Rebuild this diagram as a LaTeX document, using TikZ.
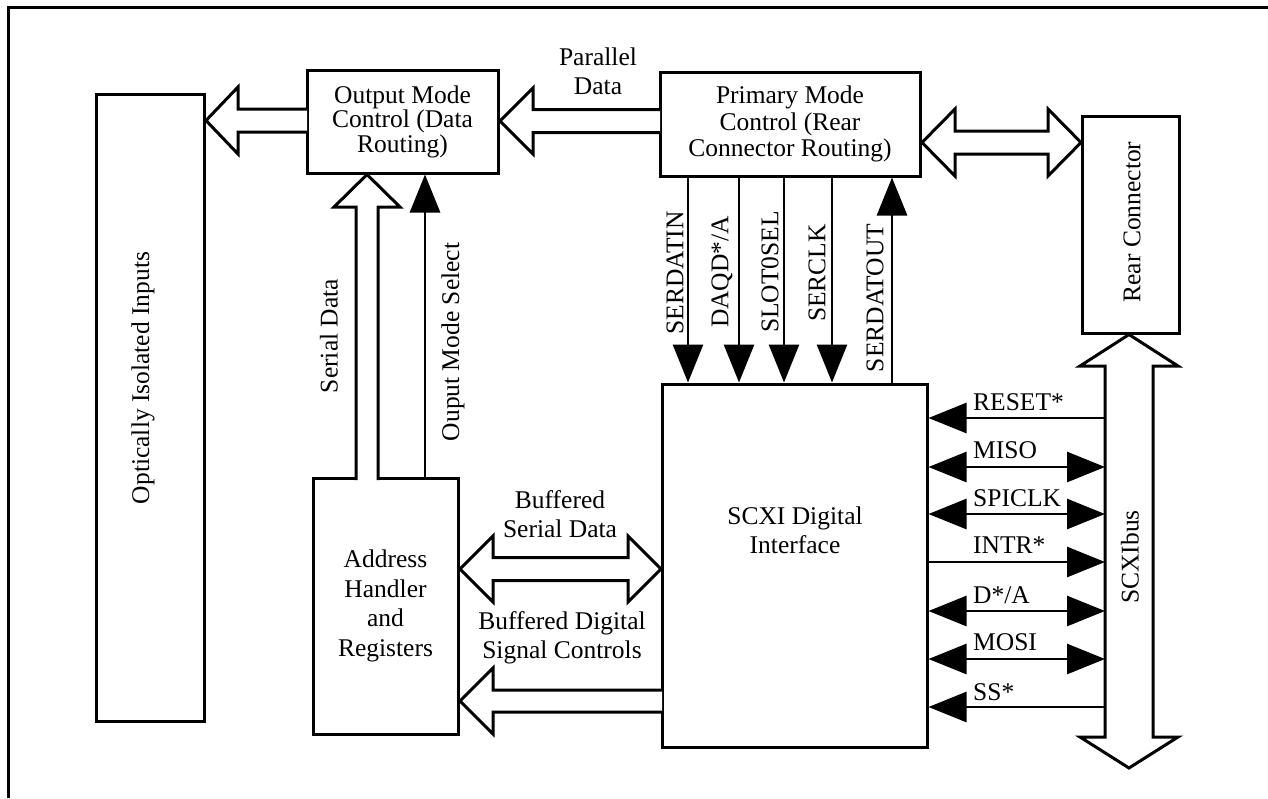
\documentclass[tikz,border=0pt]{standalone}
\usepackage{fontspec}
\setmainfont{Liberation Serif}
\usetikzlibrary{arrows.meta}
\begin{document}
\begin{tikzpicture}[x=1pt,y=-1pt,
  box/.style={draw,line width=3pt,inner sep=0pt,align=center,font=\fontsize{25.5}{26.5}\selectfont},
  lbl/.style={inner sep=0pt,align=center,font=\fontsize{25.5}{29}\selectfont},
  blk/.style={draw,line width=3pt,fill=white,line join=miter},
  sig/.style={line width=2.8pt},
  >={Triangle[length=38pt,width=30pt]}]
\useasboundingbox (0,0) rectangle (1268,798);
% frame
\draw[line width=3pt] (8,798) -- (8,7) -- (1268,7);

% boxes
\node[box, minimum width=108pt, minimum height=627pt] (opt) at (150,407.5) {};
\node[lbl, rotate=90] (optt) at (143,378) {Optically Isolated Inputs};
\node[box, minimum width=191pt, minimum height=103pt, font=\fontsize{25.5}{24.5}\selectfont] (outm) at (402.5,121.5) {Output Mode\\Control (Data\\Routing)};
\node[box, minimum width=260pt, minimum height=104pt] (prim) at (790,124) {Primary Mode\\Control (Rear\\Connector Routing)};
\node[box, minimum width=97pt, minimum height=217pt] (rear) at (1130.5,224.5) {};
\node[lbl, rotate=90] (reart) at (1132,222) {Rear Connector};
\node[box, minimum width=265pt, minimum height=363pt] (scxi) at (794.5,565.5) {};
\node[lbl] (scxit) at (795,530) {SCXI Digital\\Interface};
\node[box, minimum width=145pt, minimum height=256pt, font=\fontsize{25.5}{29.5}\selectfont] (addr) at (385.5,606) {Address\\Handler\\and\\Registers};

% hollow block arrows
\draw[blk] (307,109) -- (238,109) -- (238,87) -- (206,120.5) -- (238,154) -- (238,132) -- (307,132);
\draw[blk] (660,109.5) -- (533,109.5) -- (533,88) -- (500,121) -- (533,154) -- (533,132.5) -- (660,132.5);
\draw[blk] (955,131) -- (955,109) -- (922,142.5) -- (955,176) -- (955,154) -- (1048,154) -- (1048,176) -- (1081,142.5) -- (1048,109) -- (1048,131) -- cycle;
\draw[blk] (356,480) -- (356,207) -- (334,207) -- (367,174.5) -- (400,207) -- (378,207) -- (378,480);
\draw[blk] (1105,737) -- (1105,366) -- (1080,366) -- (1129,334.5) -- (1178,366) -- (1153,366) -- (1153,737) -- (1178,737) -- (1129,768) -- (1080,737) -- cycle;
\draw[blk] (493,557.5) -- (493,536) -- (460,569) -- (493,602) -- (493,580.5) -- (628,580.5) -- (628,602) -- (661,569) -- (628,536) -- (628,557.5) -- cycle;
\draw[blk] (662,690) -- (493,690) -- (493,668) -- (460,701) -- (493,734) -- (493,712) -- (662,712);

% thin signal arrows: output mode select
\coordinate (cs) at (425,300);
\draw[sig,->] (addr.north -| cs) -- (outm.south -| cs);

% vertical signals
\coordinate (v1) at (688,300);
\coordinate (v2) at (739,300);
\coordinate (v3) at (784,300);
\coordinate (v4) at (832,300);
\coordinate (v5) at (892,300);
\draw[sig,->] (prim.south -| v1) -- (scxi.north -| v1);
\draw[sig,->] (prim.south -| v2) -- (scxi.north -| v2);
\draw[sig,->] (prim.south -| v3) -- (scxi.north -| v3);
\draw[sig,->] (prim.south -| v4) -- (scxi.north -| v4);
\draw[sig,->] (scxi.north -| v5) -- (prim.south -| v5);

% horizontal bus signals
\coordinate (busl) at (1105,560);
\coordinate (h1) at (1000,418);
\coordinate (h2) at (1000,467);
\coordinate (h3) at (1000,514);
\coordinate (h4) at (1000,562);
\coordinate (h5) at (1000,611);
\coordinate (h6) at (1000,659);
\coordinate (h7) at (1000,707);
\draw[sig,->] (busl |- h1) -- (scxi.east |- h1);
\draw[sig,<->] (scxi.east |- h2) -- (busl |- h2);
\draw[sig,<->] (scxi.east |- h3) -- (busl |- h3);
\draw[sig,->] (scxi.east |- h4) -- (busl |- h4);
\draw[sig,<->] (scxi.east |- h5) -- (busl |- h5);
\draw[sig,<->] (scxi.east |- h6) -- (busl |- h6);
\draw[sig,->] (busl |- h7) -- (scxi.east |- h7);

% labels
\node[lbl] (lpar) at (598,71) {Parallel\\Data};
\node[lbl, rotate=90] (lser) at (329,336) {Serial Data};
\node[lbl, rotate=90] (lsel) at (453,342) {Ouput Mode Select};
\node[lbl, rotate=90] (l1) at (675,273) {SERDATIN};
\node[lbl, rotate=90] (l2) at (722,272) {DAQD*/A};
\node[lbl, rotate=90] (l3) at (770,272) {SLOT0SEL};
\node[lbl, rotate=90] (l4) at (817,273) {SERCLK};
\node[lbl, rotate=90] (l5) at (875,298) {SERDATOUT};
\node[lbl, rotate=90] (lbus) at (1130,557) {SCXIbus};
\node[lbl] (lbsd) at (560,514) {Buffered\\Serial Data};
\node[lbl] (lbdc) at (562,638) {Buffered Digital\\Signal Controls};
\node[lbl, anchor=west] (r1) at (973,402) {RESET*};
\node[lbl, anchor=west] (r2) at (973,450) {MISO};
\node[lbl, anchor=west] (r3) at (973,498) {SPICLK};
\node[lbl, anchor=west] (r4) at (973,545) {INTR*};
\node[lbl, anchor=west] (r5) at (973,595) {D*/A};
\node[lbl, anchor=west] (r6) at (973,642) {MOSI};
\node[lbl, anchor=west] (r7) at (973,692) {SS*};
\end{tikzpicture}
\end{document}
